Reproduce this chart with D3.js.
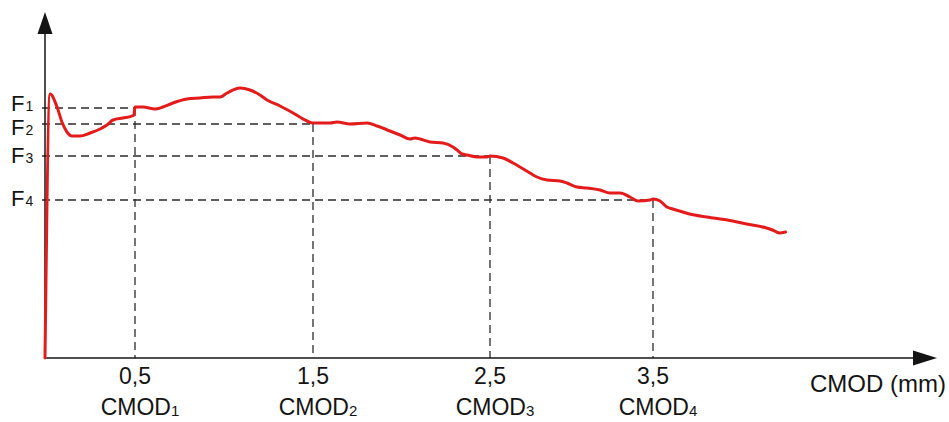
<!DOCTYPE html>
<html>
<head>
<meta charset="utf-8">
<script src="https://cdn.jsdelivr.net/npm/d3@7"></script>
<style>
  html, body { margin: 0; padding: 0; background: #fff; }
  #chart { width: 949px; height: 422px; }
  text { font-family: "Liberation Sans", Arial, sans-serif; fill: #141414; }
</style>
</head>
<body>
<div id="chart"></div>
<script>
// Load vs CMOD curve (CMOD in mm, load in arbitrary units)
var CMOD = [0, 0.028, 0.067, 0.094, 0.122, 0.150, 0.194, 0.250, 0.306, 0.344, 0.378, 0.433, 0.483, 0.494,
  0.500, 0.545, 0.612, 0.657, 0.713, 0.792, 0.865, 0.938, 0.978, 1.017, 1.090, 1.146, 1.202, 1.242,
  1.315, 1.388, 1.466, 1.500, 1.596, 1.636, 1.709, 1.805, 1.862, 1.935, 1.992, 2.048, 2.076, 2.105,
  2.161, 2.234, 2.291, 2.314, 2.342, 2.370, 2.427, 2.483, 2.500, 2.580, 2.641, 2.684, 2.745, 2.788,
  2.850, 2.929, 2.972, 3.034, 3.095, 3.175, 3.236, 3.298, 3.359, 3.408, 3.482, 3.500, 3.543, 3.585,
  3.620, 3.663, 3.724, 3.831, 3.988, 4.074, 4.196, 4.233, 4.276, 4.313];
var LOAD = [0, 26.4, 25.1, 23.6, 22.6, 22.2, 22.2, 22.5, 22.9, 23.3, 23.8, 24.0, 24.2, 24.3,
  25.1, 25.1, 24.9, 25.1, 25.5, 25.9, 26.0, 26.1, 26.1, 26.5, 27.0, 26.8, 26.3, 25.8,
  25.2, 24.5, 23.7, 23.5, 23.5, 23.6, 23.4, 23.5, 23.2, 22.7, 22.3, 21.9, 22.0, 21.9,
  21.6, 21.5, 21.1, 20.8, 20.4, 20.3, 20.1, 20.1, 20.2, 20.0, 19.5, 19.1, 18.5, 18.1,
  17.8, 17.7, 17.5, 17.1, 17.0, 16.8, 16.5, 16.5, 16.1, 15.7, 15.8, 15.9, 15.7, 15.1,
  14.9, 14.7, 14.4, 14.1, 13.7, 13.4, 13.0, 12.8, 12.5, 12.6];

// Reference points
var CMOD_TICKS = [0.5, 1.5, 2.5, 3.5];
var CMOD_TICK_LABELS = ['0,5', '1,5', '2,5', '3,5'];
var CMOD_NAMES = ['1', '2', '3', '4'];
var F_VALUES = [25.0, 23.4, 20.2, 15.8];
var F_NAMES = ['1', '2', '3', '4'];
var X_TITLE = 'CMOD (mm)';

(function() {
    var W = 949, H = 422;
    var RED = '#e31b1b';
    var INK = '#141414';
    var DASH = '#2b2b2b';

    var svg = d3.select('#chart').append('svg')
        .attr('width', W)
        .attr('height', H);

    // The source figure is hand-drawn: tick spacing is not quite even
    var x = d3.scaleLinear()
        .domain([0, 0.5, 1.5, 2.5, 3.5])
        .range([45, 135, 313, 490, 653]);
    var y = d3.scaleLinear()
        .domain([0, 34.6])
        .range([358, 12]);

    var x0 = x(0), y0 = y(0);

    // Dashed guides
    var guides = svg.append('g')
        .attr('stroke', DASH)
        .attr('stroke-width', 1.3)
        .attr('stroke-dasharray', '8,5')
        .attr('fill', 'none');

    guides.selectAll('line.h').data(F_VALUES).join('line')
        .attr('class', 'h')
        .attr('x1', x0 - 3)
        .attr('x2', function(d, i) { return x(CMOD_TICKS[i]); })
        .attr('y1', function(d) { return y(d); })
        .attr('y2', function(d) { return y(d); });

    guides.selectAll('line.v').data(CMOD_TICKS).join('line')
        .attr('class', 'v')
        .attr('x1', function(d) { return x(d); })
        .attr('x2', function(d) { return x(d); })
        .attr('y1', function(d, i) { return y(F_VALUES[i]); })
        .attr('y2', y0);

    // Axes with arrow heads
    var axes = svg.append('g');
    axes.append('line')
        .attr('x1', x0).attr('x2', 915)
        .attr('y1', y0).attr('y2', y0)
        .attr('stroke', INK).attr('stroke-width', 1.5);
    axes.append('line')
        .attr('x1', x0).attr('x2', x0)
        .attr('y1', y0).attr('y2', 32)
        .attr('stroke', INK).attr('stroke-width', 1.5);
    axes.append('path')
        .attr('d', 'M' + (x0 - 7.5) + ',34 L' + x0 + ',12 L' + (x0 + 7.5) + ',34 Z')
        .attr('fill', INK);
    axes.append('path')
        .attr('d', 'M913,' + (y0 - 7.5) + ' L937,' + y0 + ' L913,' + (y0 + 7.5) + ' Z')
        .attr('fill', INK);

    // Curve
    var pts = CMOD.map(function(c, i) { return [c, LOAD[i]]; });
    var line = d3.line()
        .x(function(d) { return x(d[0]); })
        .y(function(d) { return y(d[1]); })
        .curve(d3.curveMonotoneX);

    svg.append('path')
        .datum(pts)
        .attr('d', line)
        .attr('fill', 'none')
        .attr('stroke', RED)
        .attr('stroke-width', 3)
        .attr('stroke-linejoin', 'round')
        .attr('stroke-linecap', 'round');

    // X tick labels + CMOD names
    svg.selectAll('text.tick').data(CMOD_TICKS).join('text')
        .attr('class', 'tick')
        .attr('x', function(d) { return x(d); })
        .attr('y', 384)
        .attr('text-anchor', 'middle')
        .attr('font-size', 23)
        .text(function(d, i) { return CMOD_TICK_LABELS[i]; });

    var names = svg.selectAll('text.cname').data(CMOD_TICKS).join('text')
        .attr('class', 'cname')
        .attr('x', function(d) { return x(d) + 5; })
        .attr('y', 415)
        .attr('text-anchor', 'middle')
        .attr('font-size', 23);
    names.append('tspan').text('CMOD');
    names.append('tspan')
        .attr('font-size', 15)
        .attr('dy', 1)
        .text(function(d, i) { return CMOD_NAMES[i]; });

    // F labels; nudged apart where they crowd
    var F_BASE = [111, 135, 163, 206];
    var flab = svg.selectAll('text.flab').data(F_VALUES).join('text')
        .attr('class', 'flab')
        .attr('x', 11)
        .attr('y', function(d, i) { return F_BASE[i]; })
        .attr('font-size', 22);
    flab.append('tspan').text('F');
    flab.append('tspan')
        .attr('font-size', 14)
        .attr('dx', 1)
        .text(function(d, i) { return F_NAMES[i]; });

    svg.append('text')
        .attr('x', 946)
        .attr('y', 392)
        .attr('text-anchor', 'end')
        .attr('font-size', 24)
        .text(X_TITLE);
})();
</script>
</body>
</html>
